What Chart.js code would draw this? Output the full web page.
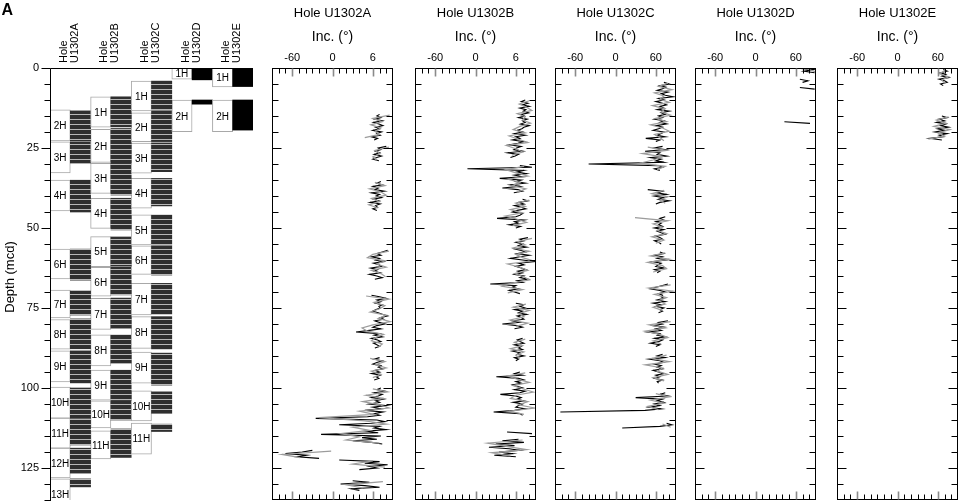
<!DOCTYPE html>
<html>
<head>
<meta charset="utf-8">
<title>Hole U1302 inclination</title>
<script src="https://cdn.jsdelivr.net/npm/chart.js@4.4.1/dist/chart.umd.min.js"></script>
<style>
  body { margin: 0; background: #fff; }
  #wrap { position: relative; width: 960px; height: 501px; overflow: hidden; background: #fff; }
  #wrap canvas { position: absolute; top: 0; }
</style>
</head>
<body>
<div id="wrap">
  <canvas id="cores" width="262" height="501" style="left:0"></canvas>
</div>
<script>
// ================== Data ==================
const holes = ["U1302A", "U1302B", "U1302C", "U1302D", "U1302E"];
const depthTicks = [0, 25, 50, 75, 100, 125];
const incTicks = [-60, 0, 60];
const incLabelsAB = ["-60", "0", "6"];
const incLabelsCDE = ["-60", "0", "60"];

// cores: [name, core top, core bottom, recovered top, recovered bottom] in mcd
const coresA = [
    ["2H", 13.1, 22.8, 13.4, 22.8], ["3H", 23.1, 32.8, 23.1, 29.7], ["4H", 35.0, 44.7, 35.0, 45.0],
    ["6H", 56.6, 65.9, 56.6, 66.3], ["7H", 69.4, 78.1, 69.7, 77.2], ["8H", 78.6, 87.9, 78.4, 87.8],
    ["9H", 88.4, 98.1, 88.4, 98.4], ["10H", 99.7, 109.4, 100.0, 109.4], ["11H", 109.4, 118.8, 109.6, 117.8],
    ["12H", 118.8, 128.1, 118.8, 126.6], ["13H", 128.4, 138.0, 128.4, 130.9]
];
const coresB = [
    ["1H", 9.0, 18.5, 9.0, 18.4], ["2H", 19.2, 29.5, 18.9, 29.7], ["3H", 29.8, 39.2, 29.8, 39.7],
    ["4H", 40.7, 50.1, 40.7, 50.6], ["5H", 52.7, 62.1, 52.8, 61.9], ["6H", 62.3, 71.3, 62.2, 70.9],
    ["7H", 72.0, 81.7, 71.9, 81.3], ["8H", 83.4, 93.1, 83.4, 92.2], ["9H", 94.4, 103.8, 94.4, 103.8],
    ["10H", 104.0, 112.5, 103.9, 110.0], ["11H", 113.4, 122.2, 112.8, 121.7]
];
const coresC = [
    ["1H", 4.1, 13.4, 4.1, 13.1], ["2H", 14.0, 23.0, 13.4, 23.0], ["3H", 23.5, 32.9, 23.4, 32.4],
    ["4H", 34.5, 43.8, 34.5, 43.1], ["5H", 45.9, 55.3, 45.9, 55.3], ["6H", 55.6, 64.5, 55.6, 64.7],
    ["7H", 67.3, 77.2, 67.3, 77.0], ["8H", 77.7, 87.6, 77.7, 87.9], ["9H", 88.8, 98.5, 89.1, 99.1],
    ["10H", 100.9, 110.3, 101.2, 107.9], ["11H", 111.0, 120.7, 111.3, 113.6]
];
const coresD = [["1H", 0, 3.5, 0, 3.7], ["2H", 10.0, 19.9, 10.0, 11.3]];
const coresE = [["1H", 0, 5.9, 0, 5.8], ["2H", 10.0, 19.9, 10.0, 19.4]];

// inclination (deg): [start depth, values]; black every 0.5 m, grey every 1 m
const stepBlack = 0.5;
const stepGray = 1;

const incA_black = [
    [14.5, [70, 66, 72, 63, 74, 61, 69, 75, 64, 70, 60, 73, 66, 71, 58, 67, 62]],
    [24.5, [80, 68, 72, 64, 70, 62, 73, 66, 60, 69]],
    [35.5, [72, 66, 74, 60, 68, 63, 77, 58, 70, 65, 73, 61, 69, 56, 71, 64, 67, 60, 66]],
    [57, [82, 74, 66, 72, 58, 70, 64, 76, 61, 69, 73, 57, 67, 62, 71, 55, 66, 74, 63]],
    [71, [58, 70, 80, 66, 72, 64, 74, 69, 71, 65, 60, 68, 75, 82, 71, 76, 63, 70, 78, 66, 60, 72, 55, 35, 70, 62, 74, 58, 67, 72, 61, 66, 70, 63]],
    [90.5, [70, 62, 74, 66, 60, 72, 68, 75, 63, 70, 58, 71, 65, 69, 62]],
    [100, [72, 66, 78, 62, 74, 68, 58, 76, 64, 70, 55, 80, 60, 72, 48, 75, 62, 70, 52, -25, 66, 78, 58, 10, 70, 62, 80, 50, 68, -17, 72, 44, 66, 30, 58, 74]],
    [119.5, [-30, -45, -70, -38, -52, -20]],
    [122.5, [10, 70, 48, 82, 55, 66, 40]],
    [129, [30, 55, 12, 48, 70, 28, 40]]
];
const incA_gray = [
    [14.75, [85, 60, 74, 57, 72, 63, 70, 48]],
    [24.75, [84, 63, 71, 60, 66]],
    [35.75, [63, 78, 55, 72, 80, 58, 70, 54, 68]],
    [57.25, [84, 60, 52, 78, 66, 80, 58, 72, 79]],
    [71.25, [50, 84, 62, 78, 70, 56, 80, 68, 86, 60, 44, 52, 76, 64, 58, 74, 68]],
    [90.75, [56, 78, 64, 80, 58, 72, 60]],
    [100.25, [60, 82, 50, 76, 45, 70, 84, 40, 62, -20, 48, 80, 30, 55, 12, 40, 20, 70]],
    [119.75, [-2, -75, -48]],
    [122.75, [60, 30, 78]],
    [129.25, [75, 20, 45]]
];

const incB_black = [
    [10, [74, 68, 78, 70, 80, 66, 75, 71, 79, 68, 73, 64, 77, 70, 74, 67, 80, 72, 69, 62, 70, 58, 74, 60, 66, 55, 72, 63, 50, 68, 61, 57, 70, 48, 64, 59, 52]],
    [30.5, [66, 84, -12, 72, 62, 76, 58, 70, 36, 68, 60, 74, 52, 66, 40, 63, 70, 57]],
    [41, [70, 78, 64, 72, 58, 68, 75, 62, 55, 70, 66, 60, 32, 72, 58, 64, 50, 67, 60]],
    [53, [78, 66, 72, 60, 70, 64, 76, 58, 68, 74, 62, 80, 66, 52, 70, 88, 64, 72, 60, 68, 75, 63, 70, 58, 72, 66, 78, 62, 70, 22, 60, 55, 64, 50, 58, 66]],
    [73.5, [60, 72, 66, 74, 58, 70, 64, 76, 62, 68, 72, 55, 66, 40, 62, 70, 58]],
    [84.5, [70, 62, 66, 72, 58, 68, 64, 70, 55, 66, 62, 72, 58, 64, 60]],
    [95, [66, 58, 70, 31, 64, 72, 60, 68, 55, 62, 70, 58, 74, 66, 37, 60, 68, 62, 72, 56, 70, 64, 60, 74, 58, 27, 66, 70]],
    [113.75, [47, 84]],
    [116, [64, 40, 72, 30, 58, 20, 50, 66, 35, 55, 28, 60]]
];
const incB_gray = [
    [10.25, [80, 65, 76, 84, 62, 74, 70, 82, 66, 56, 74, 50, 64, 78, 46, 60, 70, 54]],
    [30.75, [72, 45, 60, 78, 48, 66, 55, 75, 62]],
    [41.25, [80, 60, 74, 52, 70, 44, 62, 76, 55]],
    [53.25, [84, 62, 74, 56, 80, 60, 70, 86, 48, 66, 78, 58, 72, 80, 54, 40, 70, 48]],
    [73.75, [75, 56, 80, 64, 72, 52, 78, 60]],
    [84.75, [74, 58, 70, 52, 72, 60, 66]],
    [95.25, [74, 48, 62, 80, 56, 70, 86, 60, 52, 78, 64, 88, 50, 72]],
    [116.25, [70, 18, 46, 76, 24, 52]]
];

const incC_black = [
    [4.5, [72, 80, 66, 75, 70, 62, 78, 68, 74, 86, 64, 72, 60, 70, 76, 66, 72, 62, 80, 68, 74, 64, 70, 58, 72, 66, 76, 60, 70, 64, 56, 72, 68, 62, 74, 45, 66, 60]],
    [24.5, [70, 58, 74, 44, 66, 62, 76, 52, 68, 60, 72, -40, 64, 70, 58, 66]],
    [38, [48, 70, 62, 76, 58, 72, 64, 80, 66, 60]],
    [46.5, [74, 66, 72, 60, 68, 64, 70, 58, 72, 62, 68, 74, 60, 66, 70, 58, 64, 68]],
    [57.5, [66, 72, 58, 70, 62, 76, 55, 68, 64, 60, 72, 58, 66, 62]],
    [67.5, [78, 70, 60, 52, 66, 74, 64, 70, 68, 72, 62, 74, 56, 68, 60, 72, 66, 70, 64]],
    [79, [78, 64, 70, 56, 72, 60, 68, 48, 66, 62, 74, 58, 70, 64, 52, 66, 60]],
    [89.5, [70, 62, 74, 50, 66, 72, 58, 68, 62, 70, 56, 64, 72, 60, 66, 58, 70, 62, 64]],
    [101.5, [74, 66, 78, 30, 70, 62, 72, 58, 66, 50, 68, 44, -82]],
    [111, [76, 84, 66, 10]]
];
const incC_gray = [
    [4.75, [78, 64, 84, 58, 72, 66, 80, 55, 74, 68, 82, 60, 76, 52, 70, 80, 58, 66, 72]],
    [24.75, [48, 76, 40, 70, 56, 36, 74, 62]],
    [38.25, [72, 54, 78, 66, 74]],
    [46.75, [29, 78, 56, 70, 62, 76, 54, 72, 60]],
    [57.75, [74, 52, 80, 48, 70, 76, 56]],
    [67.75, [82, 50, 86, 58, 76, 64, 74, 56, 70]],
    [79.25, [82, 50, 74, 44, 66, 78, 56, 68]],
    [89.75, [76, 54, 80, 44, 70, 62, 78, 56, 72]],
    [101.75, [60, 80, 52, 72, 48, 64]],
    [111.25, [70, 82]]
];

const incD_black = [
    [0, [60, 86, 72, 88]],
    [3.5, [66, 78, 70]],
    [6.1, [66, 88]],
    [16.8, [43, 81]]
];
const incD_gray = [[0.25, [76, 90]]];

const incE_black = [
    [0.5, [68, 74, 64, 72, 66, 76, 62, 70, 74, 64, 68]],
    [15, [66, 74, 62, 70, 58, 72, 64, 76, 60, 70, 56, 74, 62, 68, 48, 66]]
];
const incE_gray = [
    [0.75, [72, 62, 76, 66, 70]],
    [15.25, [76, 58, 72, 54, 78, 60, 70, 46]]
];

// ================== Layout ==================
const panelLeft = [272, 415, 555, 695, 837];
const panelWidth = 121;
const sidePad = 22;

Chart.defaults.font.family = '"Liberation Sans", Arial, Helvetica, sans-serif';
Chart.defaults.color = "#000";

// ================== Core diagram ==================
const coreCanvas = document.getElementById("cores");
const coreCtx = coreCanvas.getContext("2d");

// dark bar with light section lines
const stripe = document.createElement("canvas");
stripe.width = 4;
stripe.height = 5;
const sc = stripe.getContext("2d");
sc.fillStyle = "#2f2f2f";
sc.fillRect(0, 0, 4, 5);
sc.fillStyle = "#b8b8b8";
sc.fillRect(0, 4, 4, 1);
const stripePattern = coreCtx.createPattern(stripe, "repeat");

const coreSets = [coresA, coresB, coresC, coresD, coresE];
const maxCores = Math.max(...coreSets.map((c) => c.length));
const colLabels = holes.flatMap((h) => [h + " core", h + " rec"]);

const coreDatasets = [];
for (let k = 0; k < maxCores; k++) {
    const data = [], names = [], bg = [], bc = [], bw = [];
    coreSets.forEach((cs, h) => {
        const c = cs[k];
        data.push(c ? [c[1], c[2]] : null, c ? [c[3], c[4]] : null);
        names.push(c ? c[0] : "", "");
        bg.push("#fff", h < 3 ? stripePattern : "#000");
        bc.push("#a8a8a8", "#000");
        bw.push(1, 0);
    });
    coreDatasets.push({
        data: data,
        names: names,
        backgroundColor: bg,
        borderColor: bc,
        borderWidth: bw,
        borderSkipped: false,
        grouped: false,
        categoryPercentage: 1,
        barPercentage: 1,
    });
}

function vText(ctx, txt, x, y) {
    ctx.save();
    ctx.translate(x, y);
    ctx.rotate(-Math.PI / 2);
    ctx.fillText(txt, 0, 0);
    ctx.restore();
}

const coreDecor = {
    id: "coreDecor",
    afterDatasetsDraw(chart) {
        const ctx = chart.ctx;
        ctx.save();
        ctx.font = '10px "Liberation Sans", Arial, sans-serif';
        ctx.fillStyle = "#000";
        ctx.textAlign = "center";
        ctx.textBaseline = "middle";
        chart.data.datasets.forEach((ds, i) => {
            const meta = chart.getDatasetMeta(i);
            meta.data.forEach((el, j) => {
                if (!ds.names[j] || ds.data[j] == null) return;
                const top = Math.max(el.y, chart.chartArea.top);
                ctx.fillText(ds.names[j], el.x, (top + el.base) / 2 + 1);
            });
        });
        ctx.restore();
    },
    afterDraw(chart) {
        const { ctx, chartArea: a, scales: { x, y } } = chart;
        ctx.save();
        ctx.strokeStyle = "#000";
        ctx.lineWidth = 1;
        const L = Math.round(a.left) + 0.5;
        const T = Math.round(a.top) + 0.5;
        ctx.beginPath();
        ctx.moveTo(L, a.bottom + 1);
        ctx.lineTo(L, T);
        ctx.lineTo(a.right, T);
        // depth ticks, outward
        for (let d = 0; d <= 135; d += 5) {
            const py = Math.round(y.getPixelForValue(d)) + 0.5;
            const len = d % 25 === 0 ? 9 : 6;
            ctx.moveTo(L - len, py);
            ctx.lineTo(L, py);
        }
        ctx.stroke();

        // column headers
        ctx.fillStyle = "#000";
        ctx.font = '11px "Liberation Sans", Arial, sans-serif';
        ctx.textAlign = "left";
        ctx.textBaseline = "middle";
        holes.forEach((h, i) => {
            const cx = (x.getPixelForValue(2 * i) + x.getPixelForValue(2 * i + 1)) / 2;
            vText(ctx, "Hole", cx - 6.5, 63);
            vText(ctx, h, cx + 4.5, 63);
        });

        // axis title
        ctx.font = '13px "Liberation Sans", Arial, sans-serif';
        ctx.textAlign = "center";
        vText(ctx, "Depth (mcd)", 10, 277);

        // panel letter
        ctx.font = 'bold 16px "Liberation Sans", Arial, sans-serif';
        ctx.textAlign = "left";
        ctx.textBaseline = "alphabetic";
        ctx.fillText("A", 1.5, 15);
        ctx.restore();
    },
};

new Chart(coreCanvas, {
    type: "bar",
    data: { labels: colLabels, datasets: coreDatasets },
    options: {
        responsive: false,
        animation: false,
        layout: { padding: { left: 0, right: 9, top: 68, bottom: 1 } },
        plugins: { legend: { display: false }, tooltip: { enabled: false } },
        scales: {
            x: { display: false, offset: true },
            y: {
                min: 0,
                max: 135,
                reverse: true,
                afterBuildTicks: (s) => { s.ticks = depthTicks.map((v) => ({ value: v })); },
                afterFit: (s) => {
                    s.width = 50;
                    s.paddingTop = 0;
                    s.paddingBottom = 0;
                },
                ticks: { font: { size: 11 }, padding: 11, color: "#000" },
                grid: { display: false, drawTicks: false },
                border: { display: false },
            },
        },
    },
    plugins: [coreDecor],
});

// ================== Inclination panels ==================
const frameTicks = {
    id: "frameTicks",
    afterDraw(chart) {
        const { ctx, chartArea: a, scales: { x, y } } = chart;
        const L = Math.round(a.left) + 0.5, R = Math.round(a.right) - 0.5;
        const T = Math.round(a.top) + 0.5, B = Math.round(a.bottom) - 0.5;
        ctx.save();
        ctx.strokeStyle = "#000";
        ctx.lineWidth = 1;
        ctx.strokeRect(L, T, R - L, B - T);

        // depth ticks, inward on both sides
        ctx.beginPath();
        for (let d = 5; d < 135; d += 5) {
            const py = Math.round(y.getPixelForValue(d)) + 0.5;
            const len = d % 25 === 0 ? 9 : 6;
            ctx.moveTo(L, py); ctx.lineTo(L + len, py);
            ctx.moveTo(R, py); ctx.lineTo(R - len, py);
        }
        // inclination ticks, inward top and bottom
        for (let v = -80; v <= 80; v += 10) {
            if (incTicks.includes(v)) continue;
            const px = Math.round(x.getPixelForValue(v)) + 0.5;
            ctx.moveTo(px, T); ctx.lineTo(px, T + 5);
            ctx.moveTo(px, B); ctx.lineTo(px, B - 5);
        }
        ctx.stroke();

        ctx.beginPath();
        ctx.strokeStyle = "#8a8a8a";
        ctx.lineWidth = 1.6;
        incTicks.forEach((v) => {
            const px = Math.round(x.getPixelForValue(v)) + 0.5;
            ctx.moveTo(px, T); ctx.lineTo(px, T + 8);
            ctx.moveTo(px, B); ctx.lineTo(px, B - 8);
        });
        ctx.stroke();
        ctx.restore();
    },
};

function segData(seg, step, color, width) {
    const d0 = seg[0];
    return {
        data: seg[1].map((v, i) => ({ x: v, y: d0 + i * step })),
        showLine: true,
        borderColor: color,
        borderWidth: width,
        pointRadius: 0,
        tension: 0,
    };
}

function holeChart(idx, black, gray, labels) {
    const cv = document.createElement("canvas");
    cv.width = panelWidth + 2 * sidePad;
    cv.height = 501;
    cv.style.left = panelLeft[idx] - sidePad + "px";
    document.getElementById("wrap").appendChild(cv);

    const datasets = [];
    gray.forEach((seg) => datasets.push(segData(seg, stepGray, "#9c9c9c", 1.2)));
    black.forEach((seg) => datasets.push(segData(seg, stepBlack, "#000", 1.1)));

    new Chart(cv, {
        type: "scatter",
        data: { datasets: datasets },
        options: {
            responsive: false,
            animation: false,
            layout: { padding: { left: sidePad, right: sidePad, top: 0, bottom: 1 } },
            plugins: {
                legend: { display: false },
                tooltip: { enabled: false },
                title: {
                    display: true,
                    text: "Hole " + holes[idx],
                    color: "#000",
                    font: { size: 13, weight: "normal", lineHeight: "16px" },
                    padding: { top: 5, bottom: 0 },
                },
            },
            scales: {
                x: {
                    type: "linear",
                    position: "top",
                    min: -90,
                    max: 90,
                    afterBuildTicks: (s) => { s.ticks = incTicks.map((v) => ({ value: v })); },
                    afterFit: (s) => { s.height = 47; },
                    ticks: {
                        callback: (v) => labels[incTicks.indexOf(v)],
                        font: { size: 11 },
                        padding: 3,
                        maxRotation: 0,
                        autoSkip: false,
                        color: "#000",
                    },
                    grid: { display: false, drawTicks: false },
                    border: { display: false },
                    title: {
                        display: true,
                        text: "Inc. (°)",
                        color: "#000",
                        font: { size: 14, lineHeight: "16px" },
                        padding: { top: 8, bottom: 0 },
                    },
                },
                y: { type: "linear", min: 0, max: 135, reverse: true, display: false },
            },
        },
        plugins: [frameTicks],
    });
}

holeChart(0, incA_black, incA_gray, incLabelsAB);
holeChart(1, incB_black, incB_gray, incLabelsAB);
holeChart(2, incC_black, incC_gray, incLabelsCDE);
holeChart(3, incD_black, incD_gray, incLabelsCDE);
holeChart(4, incE_black, incE_gray, incLabelsCDE);
</script>
</body>
</html>
